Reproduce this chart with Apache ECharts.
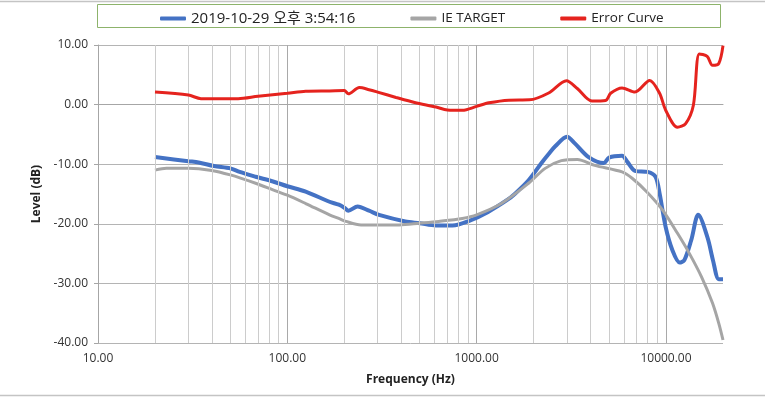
<!DOCTYPE html>
<html>
<head>
<meta charset="utf-8">
<script src="https://cdn.jsdelivr.net/npm/echarts@6/dist/echarts.min.js"></script>
<style>
  html, body { margin: 0; padding: 0; background: #fff; }
  #chart { width: 765px; height: 399px; }
</style>
</head>
<body>
<div id="chart"></div>
<script>
// 측정 곡선 (blue)
var measFreq  = [20, 30, 34, 41, 50, 56, 68, 84, 100, 125, 167, 187, 200, 210, 235, 270, 305, 420, 500, 610, 745, 900, 1150, 1450, 1600, 1880, 2200, 2400, 2600, 3000, 3300, 3900, 4700, 5000, 5860, 6250, 6860, 8000, 8800, 9250, 9950, 10800, 11800, 12500, 13600, 14800, 16600, 17700, 19000, 20000];
var measLevel = [-8.8, -9.5, -9.7, -10.3, -10.7, -11.3, -12.1, -12.9, -13.7, -14.6, -16.3, -16.8, -17.3, -17.8, -17.1, -17.8, -18.5, -19.6, -19.9, -20.3, -20.3, -19.6, -18.0, -16.0, -14.9, -12.7, -9.8, -8.3, -7.0, -5.4, -6.5, -8.8, -9.8, -8.9, -8.6, -9.6, -11.1, -11.3, -12.1, -14.9, -20.5, -24.4, -26.5, -26.1, -22.7, -18.5, -22.4, -26.1, -29.3, -29.3];

// 타겟 곡선 (grey)
var targetFreq  = [20, 23, 30, 39, 50, 68, 84, 100, 125, 167, 187, 204, 245, 390, 500, 630, 840, 1000, 1350, 1880, 2300, 2800, 3400, 4200, 5860, 6650, 7950, 9600, 11500, 13300, 15400, 17600, 19000, 20000];
var targetLevel = [-11.0, -10.7, -10.7, -11.0, -11.8, -13.2, -14.3, -15.2, -16.6, -18.5, -19.1, -19.6, -20.2, -20.2, -19.9, -19.6, -19.1, -18.5, -16.6, -13.2, -10.7, -9.4, -9.2, -10.2, -11.3, -12.4, -14.7, -17.7, -21.6, -25.0, -28.9, -33.3, -36.7, -39.5];

// 오차 곡선 (red)
var errorFreq  = [20, 30, 35, 55, 70, 100, 125, 167, 200, 210, 240, 270, 300, 375, 470, 610, 700, 840, 1000, 1160, 1480, 1900, 2400, 2980, 3400, 4060, 4800, 5100, 5860, 6860, 8200, 9250, 9950, 11500, 12700, 13950, 15000, 16500, 17600, 19000, 20000];
var errorLevel = [2.1, 1.6, 1.0, 1.0, 1.4, 1.9, 2.25, 2.3, 2.35, 1.8, 2.85, 2.5, 2.1, 1.2, 0.35, -0.4, -0.9, -0.95, -0.3, 0.3, 0.75, 0.8, 1.95, 4.0, 2.7, 0.6, 0.7, 1.9, 2.8, 2.1, 4.05, 1.9, -0.9, -3.8, -3.2, -0.1, 8.5, 8.1, 6.6, 6.9, 9.9];

// 보조 격자선 위치 (Hz)
var minorFreq = [20, 30, 40, 50, 60, 70, 80, 90, 200, 300, 400, 500, 600, 700, 800, 900, 2000, 3000, 4000, 5000, 6000, 7000, 8000, 9000];

var seriesNames = ['2019-10-29 오후 3:54:16', 'IE TARGET', 'Error Curve'];

var FONT = '"Open Sans", "Noto Sans CJK KR", sans-serif';

function pairs(xs, ys) {
    var out = [];
    for (var i = 0; i < xs.length; i++) {
        out.push([xs[i], ys[i]]);
    }
    return out;
}

var chart = echarts.init(document.getElementById('chart'), null, { renderer: 'canvas' });

var option = {
    animation: false,
    backgroundColor: '#ffffff',
    textStyle: { fontFamily: FONT },
    legend: {
        left: 155,
        top: 6,
        itemWidth: 26,
        itemHeight: 4,
        itemGap: 55,
        icon: 'roundRect',
        textStyle: { fontSize: 13.5, color: '#222', fontFamily: FONT },
        data: [
            { name: seriesNames[0], textStyle: { fontSize: 15, padding: [4, 0, 0, 0] } },
            { name: seriesNames[1], textStyle: { padding: [1, 0, 0, 0] } },
            { name: seriesNames[2], textStyle: { padding: [1, 0, 0, 0] } }
        ]
    },
    grid: {
        left: 98,
        top: 45,
        width: 625,
        height: 298,
        containLabel: false
    },
    xAxis: {
        type: 'log',
        logBase: 10,
        min: 10,
        max: 20000,
        name: 'Frequency (Hz)',
        nameLocation: 'middle',
        nameGap: 31,
        nameTextStyle: { fontSize: 12, fontWeight: 'bold', color: '#222' },
        axisLine: { show: true, lineStyle: { color: '#a6a6a6', width: 1 } },
        axisTick: { show: false },
        axisLabel: {
            fontSize: 12,
            color: '#333',
            margin: 10,
            showMaxLabel: false,
            formatter: function (v) { return Number(v).toFixed(2); }
        },
        splitLine: { show: true, showMaxLine: false, lineStyle: { color: '#a9a9a9', width: 1 } },
        minorTick: { show: false },
        minorSplitLine: { show: false }
    },
    yAxis: {
        type: 'value',
        min: -40,
        max: 10,
        interval: 10,
        name: 'Level (dB)',
        nameLocation: 'middle',
        nameGap: 54,
        nameTextStyle: { fontSize: 12, fontWeight: 'bold', color: '#222' },
        axisLine: { show: true, lineStyle: { color: '#a6a6a6', width: 1 } },
        axisTick: { show: true, inside: false, length: 4, lineStyle: { color: '#a6a6a6' } },
        axisLabel: {
            fontSize: 12,
            color: '#333',
            margin: 10,
            formatter: function (v) { return Number(v).toFixed(2); }
        },
        splitLine: { show: true, lineStyle: { color: '#b4b4b4', width: 1 } }
    },
    series: [
        {
            // 보조 격자선
            type: 'line',
            data: [],
            silent: true,
            z: 1,
            markLine: {
                silent: true,
                symbol: ['none', 'none'],
                label: { show: false },
                lineStyle: { color: '#cccccc', width: 1, type: 'solid' },
                emphasis: { disabled: true },
                data: minorFreq.map(function (f) { return { xAxis: f }; })
            }
        },
        {
            name: seriesNames[0],
            type: 'line',
            data: pairs(measFreq, measLevel),
            showSymbol: false,
            smooth: 0.3,
            z: 3,
            itemStyle: { color: '#4472c4' },
            lineStyle: { color: '#4472c4', width: 4 }
        },
        {
            name: seriesNames[1],
            type: 'line',
            data: pairs(targetFreq, targetLevel),
            showSymbol: false,
            smooth: 0.3,
            z: 4,
            itemStyle: { color: '#a5a5a5' },
            lineStyle: { color: '#a5a5a5', width: 3 }
        },
        {
            name: seriesNames[2],
            type: 'line',
            data: pairs(errorFreq, errorLevel),
            showSymbol: false,
            smooth: 0.3,
            z: 5,
            itemStyle: { color: '#e5231e' },
            lineStyle: { color: '#e5231e', width: 3 }
        }
    ],
    graphic: [
        // 범례 테두리
        { type: 'rect', shape: { x: 97.5, y: 4.5, width: 623, height: 23 }, style: { fill: 'none', stroke: '#8db36b', lineWidth: 1 }, silent: true },
        // 시트 테두리
        { type: 'line', shape: { x1: 0, y1: 1.5, x2: 765, y2: 1.5 }, style: { stroke: '#c4c4c4', lineWidth: 1.5 }, silent: true },
        { type: 'line', shape: { x1: 0, y1: 395.5, x2: 765, y2: 395.5 }, style: { stroke: '#c4c4c4', lineWidth: 1.5 }, silent: true }
    ]
};

chart.setOption(option);
</script>
</body>
</html>
